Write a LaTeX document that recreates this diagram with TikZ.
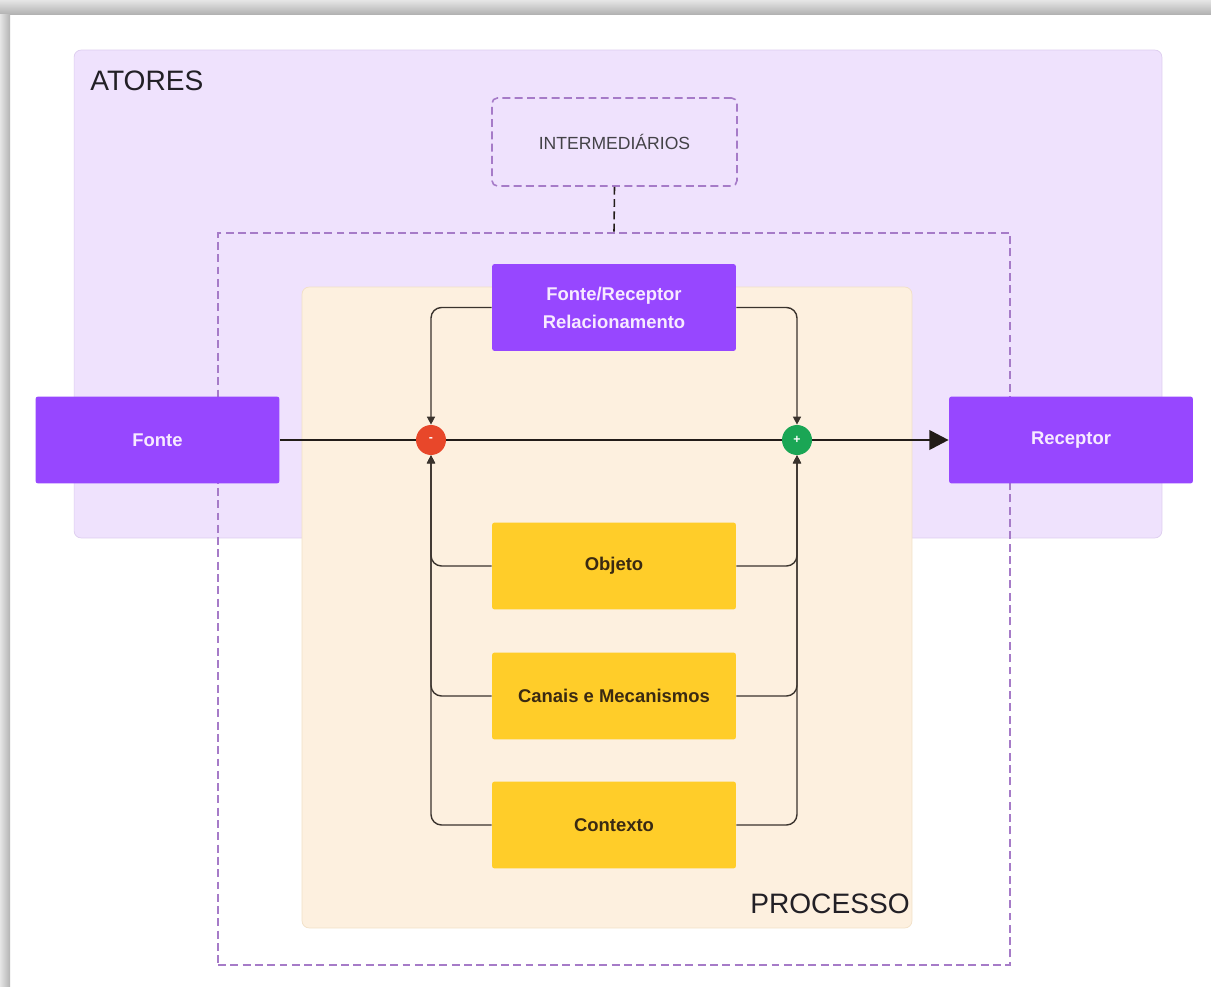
\documentclass[tikz,border=0pt]{standalone}
\usepackage{fontspec}
\setmainfont{Liberation Sans}
\usetikzlibrary{arrows.meta}
\definecolor{lav}{HTML}{EFE2FD}
\definecolor{lavborder}{HTML}{DDCDEF}
\definecolor{dashpurple}{HTML}{A67BC8}
\definecolor{cream}{HTML}{FDF0DF}
\definecolor{creamborder}{HTML}{F1E0C6}
\definecolor{boxpurple}{HTML}{9747FF}
\definecolor{boxyellow}{HTML}{FFCD29}
\definecolor{minusred}{HTML}{E8472A}
\definecolor{plusgreen}{HTML}{1AA655}
\definecolor{txtdark}{HTML}{222026}
\definecolor{ytext}{HTML}{3A2A12}
\definecolor{ptext}{HTML}{F7EAFF}
\definecolor{linedark}{HTML}{221C18}
\definecolor{thinline}{HTML}{3A332D}
\begin{document}
\begin{tikzpicture}[x=0.02cm,y=-0.02cm,
  pbox/.style={fill=boxpurple, text=ptext, font=\bfseries\fontsize{10.5}{16}\selectfont,
    minimum width=4.88cm, minimum height=1.74cm, rounded corners=1.5pt, align=center, inner sep=0pt},
  ybox/.style={pbox, fill=boxyellow, text=ytext},
  dashbox/.style={draw=dashpurple, line width=0.9pt, dash pattern=on 4.5pt off 2.5pt},
  sign/.style={circle, minimum size=0.6cm, inner sep=0pt, text=white, font=\bfseries\fontsize{7}{8}\selectfont},
  mainline/.style={draw=linedark, line width=1.7pt},
  fb/.style={draw=thinline, line width=0.8pt, rounded corners=6pt, -{Triangle[length=4.5pt,width=4.5pt]}},
  title/.style={text=txtdark, font=\fontsize{16}{19}\selectfont, inner sep=0pt}
]
% canvas
\useasboundingbox (0,0) rectangle (1211,987);
\fill[white] (0,0) rectangle (1211,987);
\shade[top color=gray!20, bottom color=gray!60] (0,0) rectangle (1211,14);
\shade[left color=gray!20, right color=gray!60] (0,14) rectangle (10,987);

% containers
\node[draw=lavborder, fill=lav, rounded corners=4pt, minimum width=21.76cm, minimum height=9.76cm, inner sep=0pt] (atoresbox) at (618,294) {};
\node[title, anchor=base west] (atores) at (90,90) {ATORES};

\node[dashbox, minimum width=15.84cm, minimum height=14.64cm, inner sep=0pt] (outer) at (614,599) {};
\node[dashbox, rounded corners=3pt, minimum width=4.9cm, minimum height=1.76cm, inner sep=0pt,
      text=txtdark!85, font=\fontsize{10}{12}\selectfont] (inter) at (614.5,142) {INTERMEDIÁRIOS};
\draw[linedark, line width=0.9pt, dash pattern=on 4.5pt off 2.5pt] (inter.south) -- (outer.north);

\node[draw=creamborder, fill=cream, rounded corners=4pt, minimum width=12.2cm, minimum height=12.82cm, inner sep=0pt] (proc) at (607,607.5) {};
\node[title, anchor=base east] (processo) at (910,913) {PROCESSO};

% boxes
\node[pbox] (frel) at (614,307.5) {Fonte/Receptor\\Relacionamento};
\node[pbox] (fonte) at (157.5,440) {Fonte};
\node[pbox] (receptor) at (1071,440) {Receptor};
\node[ybox] (obj) at (614,566) {Objeto};
\node[ybox] (canais) at (614,696) {Canais e Mecanismos};
\node[ybox] (ctx) at (614,825) {Contexto};

% signs
\node[sign, fill=minusred] (minus) at (431,440) {-};
\node[sign, fill=plusgreen] (plus) at (797,440) {+};

% main flow
\draw[mainline] (fonte.east) -- (minus.west);
\draw[mainline] (minus.east) -- (plus.west);
\draw[mainline, -{Triangle[length=11pt,width=11pt]}] (plus.east) -- (receptor.west);

% feedback connectors
\draw[fb] (frel.west) -| (minus.north);
\draw[fb] (frel.east) -| (plus.north);
\draw[fb] (obj.west) -| (minus.south);
\draw[fb] (canais.west) -| (minus.south);
\draw[fb] (ctx.west) -| (minus.south);
\draw[fb] (obj.east) -| (plus.south);
\draw[fb] (canais.east) -| (plus.south);
\draw[fb] (ctx.east) -| (plus.south);
\end{tikzpicture}
\end{document}
